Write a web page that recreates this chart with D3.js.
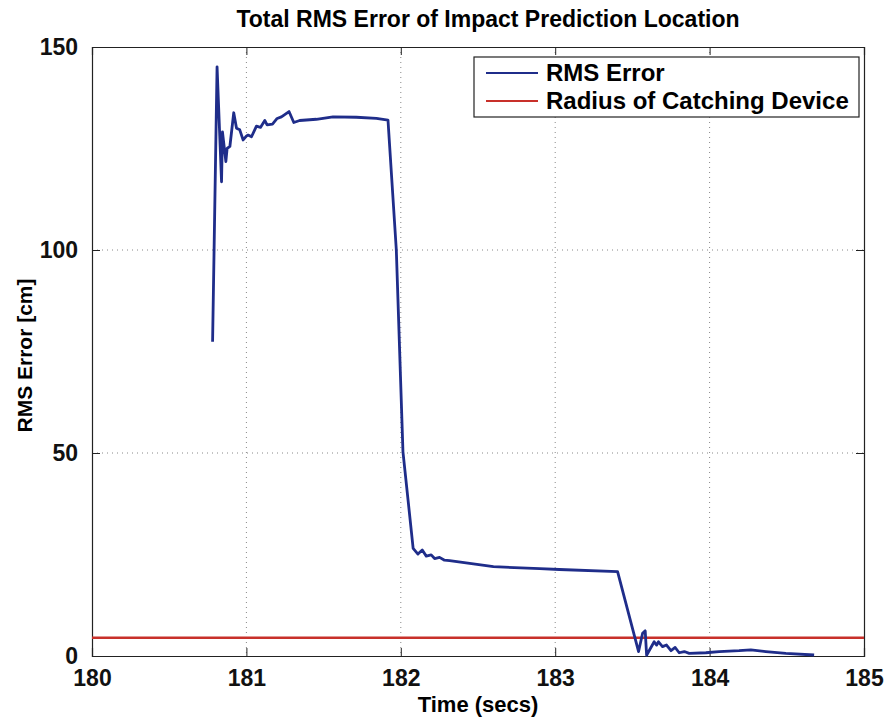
<!DOCTYPE html>
<html>
<head>
<meta charset="utf-8">
<script src="https://cdn.jsdelivr.net/npm/d3@7"></script>
<style>
  body { margin: 0; background: #fff; }
  svg text { font-family: "Liberation Sans", Arial, sans-serif; font-weight: bold; }
</style>
</head>
<body>
<div id="chart"></div>
<script>
// RMS error readings (time in secs, error in cm)
const times = [180.781, 180.810, 180.839, 180.845, 180.867, 180.875, 180.893, 180.918, 180.936, 180.957,
  180.979, 181.001, 181.011, 181.033, 181.065, 181.091, 181.119, 181.134, 181.169, 181.199,
  181.227, 181.276, 181.307, 181.345, 181.453, 181.561, 181.712, 181.842, 181.917, 181.971,
  182.014, 182.080, 182.111, 182.139, 182.165, 182.197, 182.219, 182.251, 182.283, 182.316,
  182.600, 182.900, 183.027, 183.404, 183.540, 183.566, 183.583, 183.592, 183.641, 183.657,
  183.669, 183.695, 183.721, 183.750, 183.777, 183.803, 183.836, 183.868, 183.976, 184.062,
  184.191, 184.267, 184.364, 184.494, 184.677];
const rmsError = [77.4, 145.1, 116.8, 129.1, 121.8, 125.0, 125.5, 133.8, 130.0, 129.6,
  127.1, 128.1, 128.3, 127.9, 130.5, 130.2, 131.9, 130.8, 131.0, 132.4,
  132.8, 134.1, 131.4, 131.9, 132.2, 132.8, 132.7, 132.4, 132.0, 100.0,
  50.3, 26.5, 25.1, 26.1, 24.6, 24.9, 24.0, 24.3, 23.6, 23.5,
  22.0, 21.5, 21.3, 20.8, 1.1, 5.6, 6.2, 0.2, 3.5, 2.7,
  3.5, 2.3, 2.7, 1.3, 2.1, 0.8, 1.1, 0.65, 0.8, 1.1,
  1.3, 1.5, 1.1, 0.65, 0.25];
const catchRadius = 4.5;
const xTicks = [180, 181, 182, 183, 184, 185];
const yTicks = [0, 50, 100, 150];
const seriesNames = ["RMS Error", "Radius of Catching Device"];
const seriesColors = ["#1f2d8a", "#c8302a"];

const data = times.map((t, i) => ({t: t, v: rmsError[i]}));

const margin = {top: 47, right: 24, bottom: 63, left: 92};
const width = 888 - margin.left - margin.right;
const height = 719 - margin.top - margin.bottom;

const svg = d3.select("#chart")
  .append("svg")
  .attr("width", 888)
  .attr("height", 719)
  .append("g")
  .attr("transform", `translate(${margin.left},${margin.top})`);

const x = d3.scaleLinear().domain([180, 185]).range([0, width]);
const y = d3.scaleLinear().domain([0, 150]).range([height, 0]);

// dotted grid
svg.append("g")
  .selectAll("line")
  .data(xTicks.slice(1, -1))
  .enter().append("line")
  .attr("x1", d => x(d)).attr("x2", d => x(d))
  .attr("y1", 0).attr("y2", height)
  .attr("stroke", "#888").attr("stroke-dasharray", "1,4");
svg.append("g")
  .selectAll("line")
  .data(yTicks.slice(1, -1))
  .enter().append("line")
  .attr("y1", d => y(d)).attr("y2", d => y(d))
  .attr("x1", 0).attr("x2", width)
  .attr("stroke", "#888").attr("stroke-dasharray", "1,4");

// axes with inward ticks, box style
svg.append("g")
  .attr("transform", `translate(0,${height})`)
  .call(d3.axisBottom(x).tickValues(xTicks).tickSize(-8).tickPadding(14).tickFormat(d3.format("d")));
svg.append("g")
  .call(d3.axisTop(x).tickValues(xTicks).tickSize(-8).tickFormat(""));
svg.append("g")
  .call(d3.axisLeft(y).tickValues(yTicks).tickSize(-8).tickPadding(14));
svg.append("g")
  .attr("transform", `translate(${width},0)`)
  .call(d3.axisRight(y).tickValues(yTicks).tickSize(-8).tickFormat(""));

svg.selectAll(".domain").attr("stroke", "#222").attr("stroke-width", 1.2);
svg.selectAll(".tick line").attr("stroke", "#222");
svg.selectAll(".tick text").attr("font-size", 23).attr("fill", "#111");

// axis labels and title
svg.append("text")
  .attr("x", width / 2)
  .attr("y", height + 56)
  .attr("text-anchor", "middle")
  .attr("font-size", 22)
  .text("Time (secs)");
svg.append("text")
  .attr("transform", "rotate(-90)")
  .attr("x", -height / 2 - 4)
  .attr("y", -margin.left + 32)
  .attr("text-anchor", "middle")
  .attr("font-size", 21)
  .text("RMS Error [cm]");
svg.append("text")
  .attr("x", width / 2 + 10)
  .attr("y", -20)
  .attr("text-anchor", "middle")
  .attr("font-size", 23)
  .text("Total RMS Error of Impact Prediction Location");

// radius line
svg.append("line")
  .attr("x1", 0).attr("x2", width)
  .attr("y1", y(catchRadius)).attr("y2", y(catchRadius))
  .attr("stroke", seriesColors[1])
  .attr("stroke-width", 2.5);

// RMS error line
const line = d3.line()
  .x(d => x(d.t))
  .y(d => y(d.v));

svg.append("path")
  .datum(data)
  .attr("fill", "none")
  .attr("stroke", seriesColors[0])
  .attr("stroke-width", 2.8)
  .attr("stroke-linejoin", "round")
  .attr("d", line);

// legend
const legend = svg.append("g")
  .attr("transform", `translate(${width - 390}, 10)`);
legend.append("rect")
  .attr("width", 385).attr("height", 60)
  .attr("fill", "#fff").attr("stroke", "#222").attr("stroke-width", 1.2);
seriesNames.forEach((name, i) => {
  legend.append("line")
    .attr("x1", 12).attr("x2", 64)
    .attr("y1", 16 + i * 28).attr("y2", 16 + i * 28)
    .attr("stroke", seriesColors[i]).attr("stroke-width", 2);
  legend.append("text")
    .attr("x", 72)
    .attr("y", 16 + i * 28)
    .attr("dy", "0.35em")
    .attr("font-size", 24)
    .text(name);
});
</script>
</body>
</html>
